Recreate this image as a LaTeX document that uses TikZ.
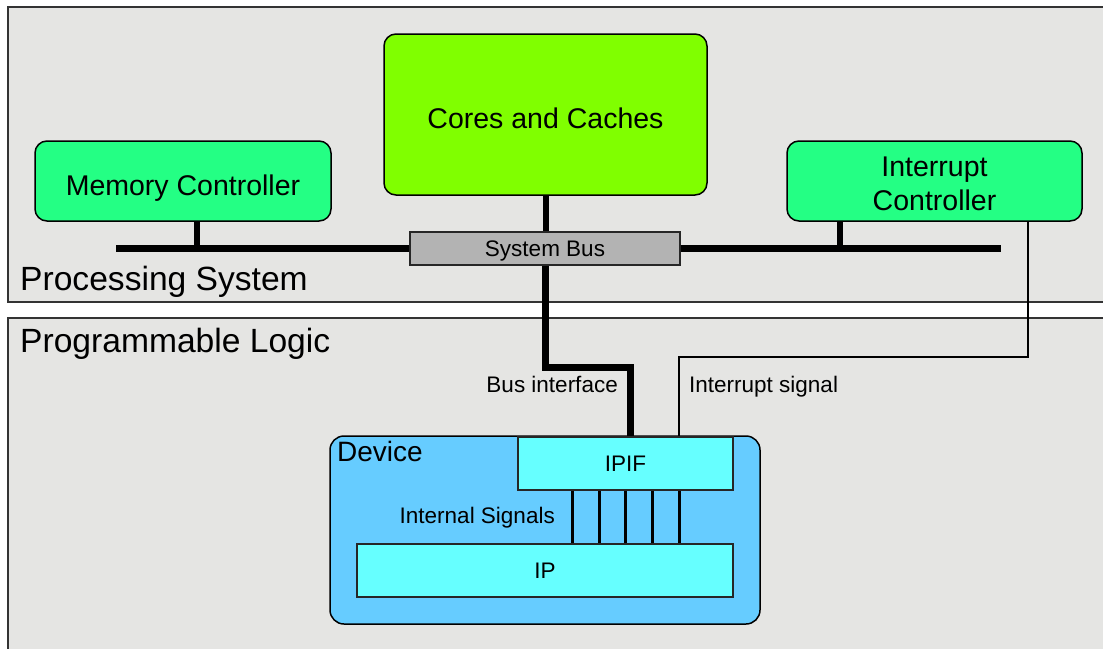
\documentclass[tikz,border=0pt]{standalone}
\usepackage{fontspec}
\setmainfont{Liberation Sans}
\definecolor{regionbg}{RGB}{229,229,227}
\definecolor{coregreen}{RGB}{128,255,0}
\definecolor{ctlgreen}{RGB}{36,255,132}
\definecolor{busgray}{RGB}{179,179,179}
\definecolor{devblue}{RGB}{102,204,255}
\definecolor{ipcyan}{RGB}{102,255,255}
\tikzset{
  region/.style={draw=black!80,line width=1.5pt,fill=regionbg},
  unit/.style={draw=black,line width=1.5pt,rounded corners=12pt,align=center,
    font=\fontsize{28.5}{34}\selectfont,inner sep=0pt,text height=28pt,text depth=0pt},
  block/.style={draw=black!85,line width=1.5pt,inner sep=0pt,
    font=\fontsize{22.5}{27}\selectfont,text height=16pt,text depth=0pt},
  bus/.style={line width=7pt},
  stub/.style={line width=6pt},
  wire/.style={line width=3pt},
  sig/.style={line width=1.5pt},
  lbl/.style={font=\fontsize{22.5}{27}\selectfont,inner sep=0pt,text height=16pt,text depth=0pt},
  title/.style={font=\fontsize{33.6}{40}\selectfont,inner sep=0pt,anchor=base west}
}
\begin{document}
\begin{tikzpicture}[x=1pt,y=-1pt]
\useasboundingbox[fill=white] (0,0) rectangle (1103,648);
\clip (0,0) rectangle (1103,648);
\draw[region] (8,7) rectangle (1115,302);
\draw[region] (8,318) rectangle (1115,660);
\node[title] (pslabel) at (20,290.5) {Processing System};
\node[title] (pllabel) at (20,352) {Programmable Logic};
\node[unit,fill=coregreen,minimum width=323pt,minimum height=161pt] (cores) at (545.5,114.5) {Cores and Caches};
\node[unit,fill=ctlgreen,minimum width=296pt,minimum height=80pt] (memctl) at (183,181) {Memory Controller};
\node[unit,fill=ctlgreen,minimum width=295pt,minimum height=80pt,text height=58pt] (intctl) at (934.5,181) {Interrupt\\Controller};
\node[block,fill=busgray,minimum width=270pt,minimum height=33pt] (sysbus) at (545,248.5) {System Bus};
\coordinate (busL) at (116,248.5);
\coordinate (busR) at (1001,248.5);
\draw[bus] (busL) -- (sysbus.west);
\draw[bus] (sysbus.east) -- (busR);
\draw[stub] ([xshift=14pt]memctl.south) -- ([xshift=14pt]memctl.south |- busL);
\draw[stub] ([xshift=-94.5pt]intctl.south) -- ([xshift=-94.5pt]intctl.south |- busR);
\draw[stub] (cores.south) -- (cores.south |- sysbus.north);
\node[draw=black,line width=1.5pt,rounded corners=14pt,fill=devblue,minimum width=430pt,minimum height=188pt] (device) at (545,530) {};
\node[title,font=\fontsize{28}{34}\selectfont] (devlabel) at (337,461) {Device};
\node[block,fill=ipcyan,minimum width=215pt,minimum height=53pt] (ipif) at (625.5,463.5) {IPIF};
\node[block,fill=ipcyan,minimum width=376pt,minimum height=53pt] (ip) at (545,570.5) {IP};
\draw[bus] (sysbus.south) -- ++(0,102) -| ([xshift=4.5pt]ipif.north);
\draw[sig] ([xshift=93.5pt]intctl.south) -- ++(0,135) -| ([xshift=53.5pt]ipif.north);
\foreach \dx in {-53.5,-26.5,0,26.5,53.5}
  \draw[wire] ([xshift=\dx pt]ipif.south) -- ([xshift=\dx pt]ipif.south |- ip.north);
\node[lbl,anchor=east] (buslbl) at (618,384) {Bus interface};
\node[lbl,anchor=west] (intlbl) at (689,384) {Interrupt signal};
\node[lbl,anchor=east] (inslbl) at (555,515) {Internal Signals};
\end{tikzpicture}
\end{document}
